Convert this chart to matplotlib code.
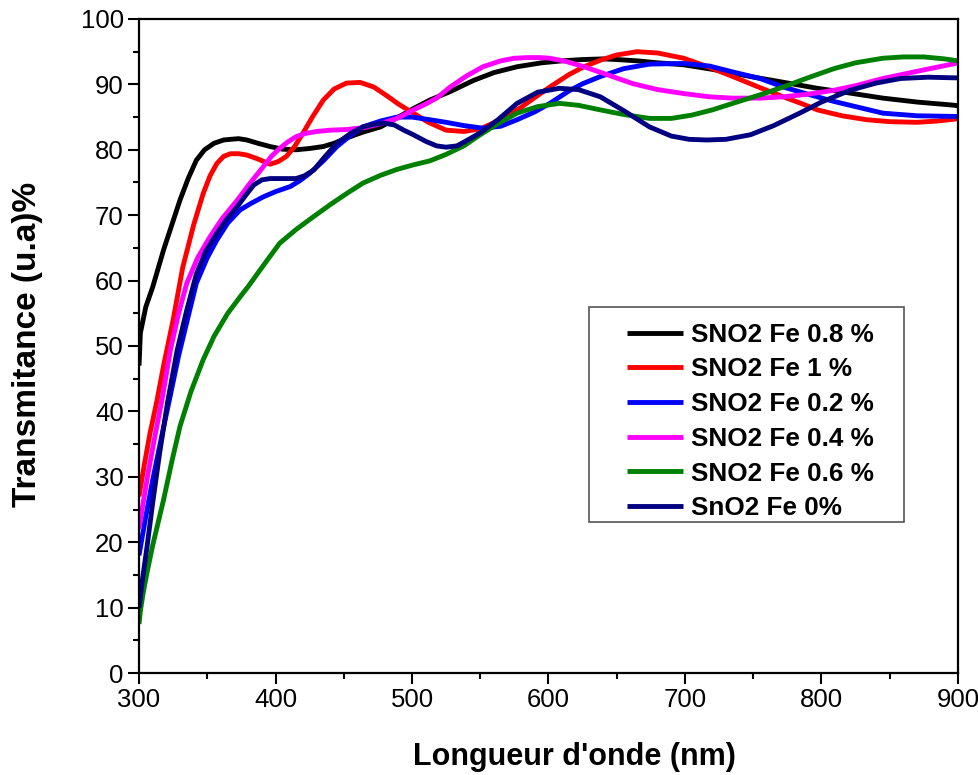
import matplotlib
matplotlib.use("Agg")
import matplotlib.pyplot as plt
from matplotlib.ticker import MultipleLocator
from matplotlib.patches import Rectangle

plt.rcParams['font.family'] = ['Liberation Sans', 'DejaVu Sans']

labels = ["SNO2 Fe 0.8 %", "SNO2 Fe 1 %", "SNO2 Fe 0.2 %", "SNO2 Fe 0.4 %", "SNO2 Fe 0.6 %", "SnO2 Fe 0%"]
colors = ["#000000", "#ff0000", "#0000ff", "#ff00ff", "#008000", "#000080"]

x_fe08 = [300, 301, 305, 310, 318, 324, 330, 336, 342, 348, 355, 362, 367, 373, 379, 387, 396, 405, 415, 425, 435, 443, 452, 464, 477, 490, 501, 513, 528, 545, 560, 577, 595, 610, 625, 640, 650, 665, 680, 699, 720, 748, 770, 797, 820, 845, 870, 898, 900]
y_fe08 = [47, 52, 56, 59, 64.7, 68.5, 72.3, 75.6, 78.4, 80.0, 81.0, 81.5, 81.6, 81.7, 81.5, 81.0, 80.5, 80.1, 80.0, 80.2, 80.5, 81.0, 81.8, 82.7, 83.5, 85.0, 86.3, 87.6, 88.9, 90.6, 91.8, 92.7, 93.3, 93.6, 93.8, 93.9, 93.8, 93.6, 93.3, 93.0, 92.3, 91.2, 90.4, 89.4, 88.7, 87.9, 87.3, 86.8, 86.7]

x_fe1 = [300, 304, 308, 313, 318, 325, 332, 340, 347, 352, 357, 362, 367, 373, 379, 387, 396, 402, 408, 414, 420, 427, 435, 443, 452, 462, 472, 482, 490, 501, 512, 525, 538, 550, 565, 580, 590, 601, 615, 625, 638, 650, 665, 680, 699, 718, 735, 755, 772, 785, 797, 815, 833, 850, 870, 885, 898, 900]
y_fe1 = [27, 32, 36.6, 41.5, 47, 54, 62, 68.5, 73.3, 76.0, 77.9, 79.0, 79.4, 79.4, 79.2, 78.6, 77.8, 78.2, 79.0, 80.5, 82.5, 85.0, 87.6, 89.3, 90.2, 90.3, 89.6, 88.2, 87.0, 85.6, 84.2, 83.0, 82.8, 83.2, 84.6, 86.5, 88.0, 89.6, 91.5, 92.6, 93.7, 94.5, 95.0, 94.8, 94.0, 92.6, 91.2, 89.5, 88.1, 87.1, 86.1, 85.2, 84.6, 84.3, 84.2, 84.4, 84.7, 84.8]

x_fe02 = [300, 305, 310, 317, 323, 329, 336, 342, 350, 357, 365, 374, 382, 391, 400, 411, 418, 425, 435, 445, 455, 464, 477, 489, 500, 513, 525, 538, 552, 565, 577, 590, 601, 615, 625, 638, 655, 674, 699, 718, 735, 755, 772, 790, 809, 825, 845, 870, 898, 900]
y_fe02 = [18, 24, 29.5, 36.6, 42.5, 48.5, 54.5, 59.6, 63.5, 66.2, 68.8, 70.8, 71.8, 72.8, 73.6, 74.4, 75.3, 76.4, 78.3, 80.5, 82.2, 83.5, 84.4, 85.0, 85.0, 84.6, 84.2, 83.7, 83.3, 83.6, 84.6, 85.8, 87.1, 89.0, 90.1, 91.2, 92.4, 93.1, 93.2, 92.8, 91.9, 90.9, 89.6, 88.5, 87.4, 86.6, 85.6, 85.2, 85.1, 85.1]

x_fe04 = [300, 303, 307, 312, 317, 323, 329, 335, 343, 352, 361, 372, 381, 391, 397, 403, 409, 415, 422, 430, 440, 452, 465, 477, 489, 501, 510, 518, 528, 540, 552, 565, 575, 585, 594, 601, 613, 626, 640, 662, 680, 699, 718, 735, 755, 772, 790, 809, 825, 845, 870, 898, 900]
y_fe04 = [22, 26, 31, 36.6, 42, 49.4, 55, 59.6, 63.5, 66.7, 69.5, 72.3, 74.8, 77.4, 79.0, 80.2, 81.2, 82.0, 82.5, 82.8, 83.0, 83.1, 83.4, 84.0, 84.8, 86.1, 87.0, 87.9, 89.6, 91.3, 92.7, 93.6, 94.0, 94.1, 94.1, 94.0, 93.5, 92.7, 91.7, 90.1, 89.2, 88.6, 88.1, 87.9, 87.9, 88.1, 88.5, 89.1, 89.8, 90.9, 92.0, 93.2, 93.3]

x_fe06 = [300, 301, 303, 306, 310, 314, 318, 324, 330, 338, 347, 355, 365, 374, 380, 390, 403, 415, 428, 440, 452, 464, 477, 489, 501, 513, 525, 538, 550, 563, 577, 592, 608, 622, 638, 655, 674, 690, 705, 720, 735, 755, 772, 790, 809, 825, 845, 860, 875, 890, 900]
y_fe06 = [7.5, 9.5, 12.2, 15.5, 19.5, 23, 26.5, 32.3, 37.7, 43, 47.9, 51.5, 55.0, 57.5, 59.1, 62.0, 65.7, 67.8, 69.8, 71.6, 73.3, 74.9, 76.1, 77.0, 77.7, 78.3, 79.3, 80.6, 82.3, 84.0, 85.6, 86.6, 87.1, 86.8, 86.1, 85.4, 84.8, 84.8, 85.3, 86.1, 87.1, 88.4, 89.6, 91.0, 92.4, 93.3, 94.0, 94.2, 94.2, 93.9, 93.6]

x_fe0 = [300, 302, 306, 310, 315, 321, 328, 335, 342, 349, 357, 364, 372, 378, 384, 390, 396, 405, 415, 421, 428, 436, 445, 455, 464, 472, 479, 487, 494, 501, 510, 518, 525, 533, 540, 550, 563, 577, 592, 608, 622, 638, 655, 674, 690, 703, 716, 730, 748, 765, 784, 800, 821, 840, 858, 878, 898, 900]
y_fe0 = [10, 13.5, 19.5, 26, 33.5, 41.5, 49.4, 55.5, 61.0, 64.5, 67.2, 69.3, 71.3, 73.0, 74.6, 75.4, 75.6, 75.6, 75.6, 76.0, 76.9, 78.9, 81.0, 82.5, 83.5, 83.9, 84.1, 83.8, 83.0, 82.3, 81.3, 80.6, 80.4, 80.6, 81.4, 82.6, 84.6, 87.1, 88.8, 89.4, 89.2, 88.1, 86.0, 83.5, 82.1, 81.6, 81.5, 81.6, 82.3, 83.7, 85.6, 87.3, 89.1, 90.2, 90.9, 91.1, 91.0, 91.0]

xs = [x_fe08, x_fe1, x_fe02, x_fe04, x_fe06, x_fe0]
ys = [y_fe08, y_fe1, y_fe02, y_fe04, y_fe06, y_fe0]

fig = plt.figure(figsize=(9.79, 7.75), dpi=100)
ax = fig.add_axes([0.142, 0.1316, 0.8365, 0.8439])

for x, y, c, lab in zip(xs, ys, colors, labels):
    ax.plot(x, y, color=c, lw=3.5, label=lab, solid_joinstyle='round', solid_capstyle='butt')

ax.set_xlim(300, 900)
ax.set_ylim(0, 100)
ax.xaxis.set_major_locator(MultipleLocator(100))
ax.xaxis.set_minor_locator(MultipleLocator(50))
ax.yaxis.set_major_locator(MultipleLocator(10))
ax.yaxis.set_minor_locator(MultipleLocator(5))
ax.tick_params(which='major', direction='out', length=8, width=1.5, labelsize=18.5, pad=3, colors='black')
ax.tick_params(which='minor', direction='out', length=4.5, width=1.5)
for s in ax.spines.values():
    s.set_linewidth(1.6)

ax.set_xlabel("Longueur d'onde (nm)", fontsize=22, fontweight='bold')
ax.set_ylabel("Transmitance (u.a)%", fontsize=24, fontweight='bold')
ax.xaxis.set_label_coords(0.532, -0.105)
ax.yaxis.set_label_coords(-0.117, 0.503)

# legend box frame
ax.add_patch(Rectangle((0.5495, 0.2309), 0.3845, 0.3287, transform=ax.transAxes,
                       fill=True, facecolor='white', edgecolor='#555555', lw=1.2, zorder=4))
leg = ax.legend(loc='center left', bbox_to_anchor=(0.5958, 0.3846),
                prop={'weight': 'bold', 'size': 18.8}, frameon=False,
                handlelength=2.15, handletextpad=0.3,
                labelspacing=0.41, borderpad=0, borderaxespad=0)
leg.set_zorder(5)

fig.savefig("out.png", dpi=100)
